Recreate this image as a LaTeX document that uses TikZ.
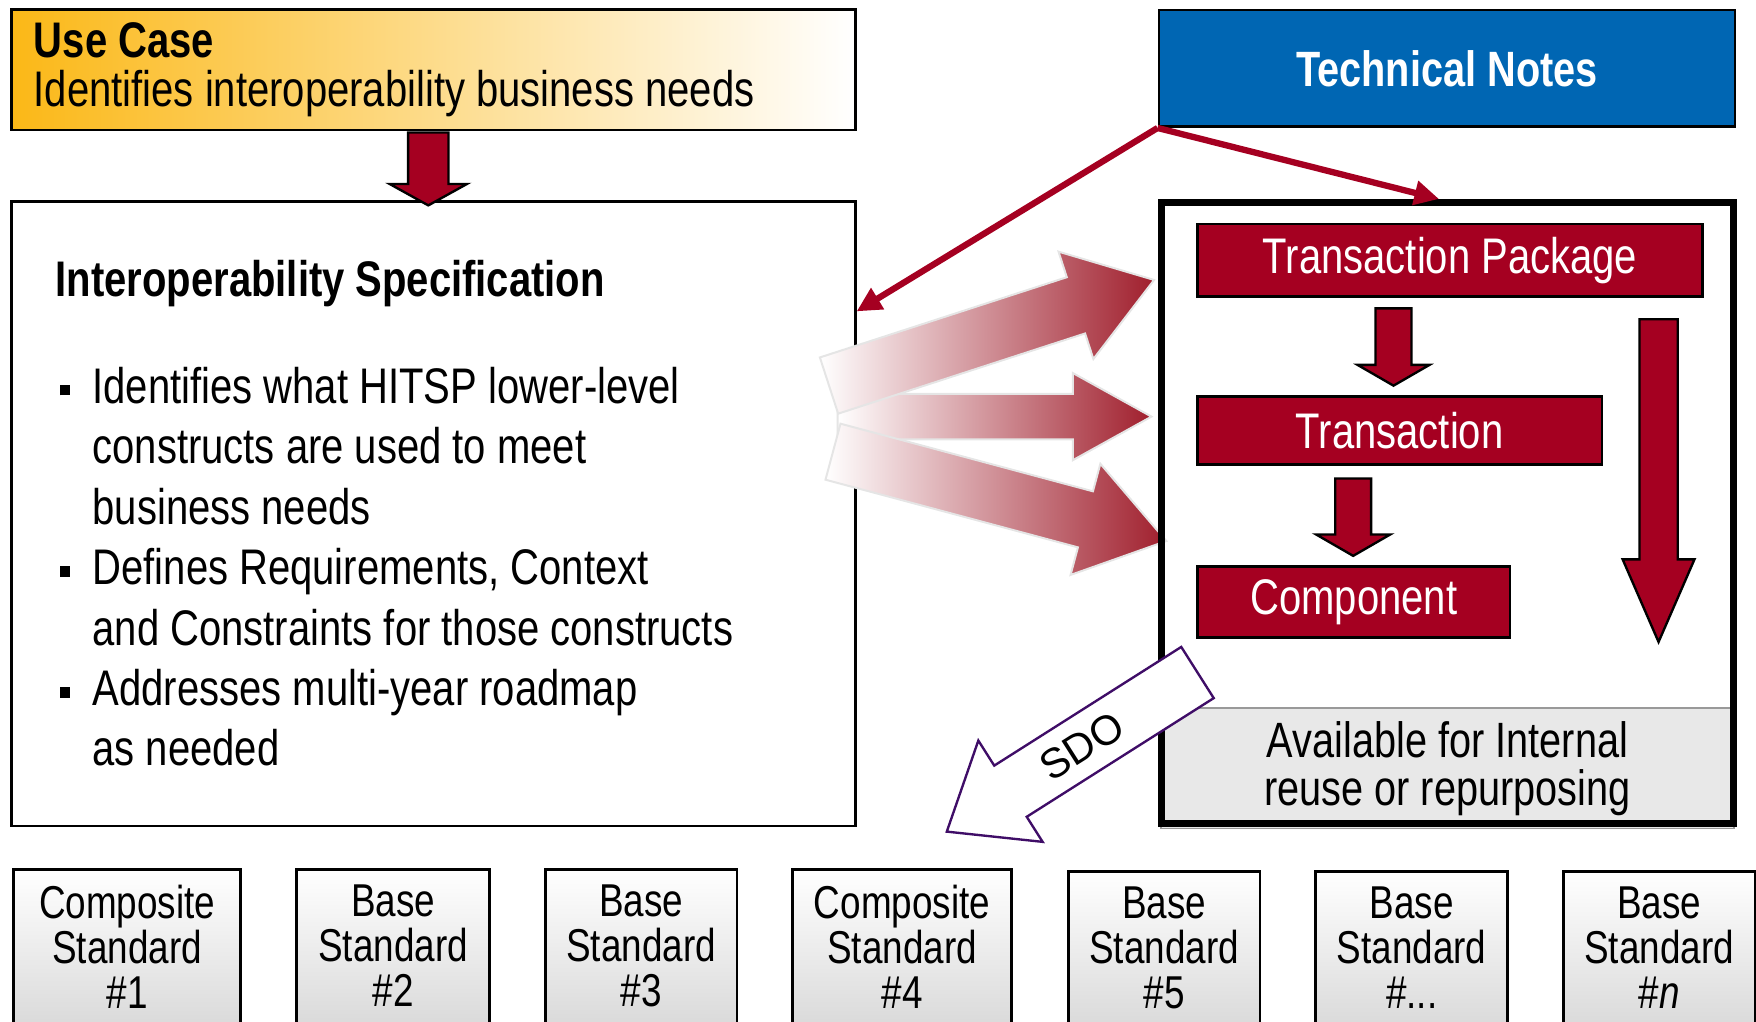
\documentclass[tikz,border=0pt]{standalone}
\usepackage{fontspec}
\setmainfont{Liberation Sans}[FakeStretch=0.8]
\newfontfamily\sdofont{Liberation Sans}
\usepackage{tikz}
\usetikzlibrary{arrows.meta, positioning, shapes.arrows, calc}
\definecolor{cUC}{HTML}{FBB817}
\definecolor{cTN}{HTML}{0066B3}
\definecolor{cHS}{HTML}{A50021}
\definecolor{cFade}{HTML}{A01F2D}
\definecolor{cSDO}{HTML}{3F0D67}
\newcommand{\mainsize}{\fontsize{12.7}{15.35}\selectfont}
\newcommand{\stdsize}{\fontsize{11.7}{11.4}\selectfont}
\newcommand{\sqb}{\rule[0.07cm]{0.095cm}{0.095cm}}

\begin{document}
\begin{tikzpicture}[x=0.01cm, y=-0.01cm,
  box/.style={draw, line width=0.7pt},
  redbox/.style={draw, line width=0.7pt, fill=cHS, text=white, font=\mainsize, minimum height=0.61cm, anchor=west},
  blockarrow/.style={single arrow, draw, line width=0.6pt, fill=cHS, inner xsep=0pt, inner ysep=0.15cm,
    single arrow head extend=0.16cm, single arrow tip angle=120, rotate=-90, anchor=tail},
  fadearrow/.style={single arrow, draw=black!10, line width=0.5pt, left color=white, right color=cFade,
    inner xsep=0pt, anchor=tip},
  link/.style={draw=cHS, line width=1.6pt, -{Triangle[length=0.22cm, width=0.21cm]}},
  stdbox/.style={box, top color=white, bottom color=black!17, anchor=north, align=center, font=\stdsize,
    inner ysep=0.14cm, text depth=0.25cm},
]
\clip (0,0) rectangle (1568,912);

\node[box, anchor=north west, left color=cUC, right color=white, minimum height=1.05cm, text width=7.13cm,
  inner xsep=0.2cm, align=flush left, font=\fontsize{12.7}{12.5}\selectfont] (uc) at (9,7)
  {\textbf{Use Case}\\Identifies interoperability business needs};
\node[box, anchor=north west, fill=white, minimum width=7.53cm, minimum height=5.57cm] (spec) at (9,179) {};
\node[blockarrow, minimum height=0.65cm, inner ysep=0.17cm, single arrow head extend=0.165cm,
  single arrow tip angle=122] (ucdown) at ([xshift=-0.045cm]uc.south) {};
\node[anchor=base west, inner sep=0pt, font=\fontsize{12.7}{14}\selectfont\bfseries] (spectitle) at (49,265)
  {Interoperability Specification};
\node[anchor=north west, inner sep=0pt, align=left, font=\mainsize] (specitems) at (82,327) {
  \llap{\sqb\hspace{0.2cm}}Identifies what HITSP lower-level\\
  constructs are used to meet\\
  business needs\\
  \llap{\sqb\hspace{0.2cm}}Defines Requirements, Context\\
  and Constraints for those constructs\\
  \llap{\sqb\hspace{0.2cm}}Addresses multi-year roadmap\\
  as needed};

\node[box, fill=cTN, text=white, font=\fontsize{12.6}{14}\selectfont\bfseries, minimum width=5.14cm,
  minimum height=1.04cm] (tn) at (1292,61) {Technical Notes};

\node[fadearrow, minimum height=2.80cm, inner ysep=0.195cm, single arrow head extend=0.185cm,
  single arrow tip angle=58] (fade2) at (1030,372) {};
\node[fadearrow, rotate=18, minimum height=3.05cm, inner ysep=0.255cm, single arrow head extend=0.24cm,
  single arrow tip angle=69] (fade1) at (1032,249.5) {};
\node[fadearrow, rotate=-15, minimum height=3.08cm, inner ysep=0.25cm, single arrow head extend=0.255cm,
  single arrow tip angle=69] (fade3) at (1043,483.5) {};

\node[draw=black!40, fill=black!9, minimum width=5.11cm, minimum height=1.03cm, align=center,
  font=\fontsize{12.6}{12.2}\selectfont] (reuse) at (1292.5,686) {Available for Internal\\reuse or repurposing};
\node[draw, line width=1.8pt, minimum width=5.11cm, minimum height=5.54cm] (lib) at (1292.5,458) {};
\node[redbox, minimum width=4.51cm] (tp) at (1068,232.5) {Transaction Package};
\node[redbox, minimum width=3.61cm] (tr) at (1068,384.5) {Transaction};
\node[redbox, minimum width=2.79cm] (comp) at (1068,537.5) {Component};
\node[blockarrow, minimum height=0.69cm] (tpdown) at ([xshift=-0.505cm, yshift=-0.08cm]tp.south) {};
\node[blockarrow, minimum height=0.69cm, single arrow head extend=0.17cm] (trdown)
  at ([xshift=-0.415cm, yshift=-0.10cm]tr.south) {};
\node[blockarrow, minimum height=2.88cm, inner ysep=0.16cm, single arrow head extend=0.15cm,
  single arrow tip angle=47] (libdown) at (1481,284) {};

\draw[link] (tn.south west) -- ([yshift=-0.99cm]spec.north east);
\draw[link] (tn.south west) -- ([xshift=-0.075cm]lib.north);

\node[single arrow, draw=cSDO, line width=0.6pt, fill=white, rotate=212.4, minimum height=2.65cm,
  inner xsep=0pt, inner ysep=0.26cm, single arrow head extend=0.265cm, single arrow tip angle=77,
  anchor=tip] (sdo) at (844,743.5) {};
\node[font=\sdofont\fontsize{10.6}{12}\selectfont, rotate=32.4, inner sep=0pt] (sdolabel)
  at ($(sdo.tail)!0.46!(sdo.tip)$) {SDO};

\node[stdbox, minimum width=2.03cm] (std1) at (113.5,775) {Composite\\Standard\\\#1};
\node[stdbox, minimum width=1.72cm] (std2) at (351,775) {Base\\Standard\\\#2};
\node[stdbox, minimum width=1.71cm] (std3) at (572.5,775) {Base\\Standard\\\#3};
\node[stdbox, minimum width=1.95cm] (std4) at (805.5,775) {Composite\\Standard\\\#4};
\node[stdbox, minimum width=1.71cm] (std5) at (1039.5,777) {Base\\Standard\\\#5};
\node[stdbox, minimum width=1.71cm] (std6) at (1260.5,777) {Base\\Standard\\\#...};
\node[stdbox, minimum width=1.71cm] (std7) at (1481.5,777) {Base\\Standard\\\#\textit{n}};
\end{tikzpicture}
\end{document}
